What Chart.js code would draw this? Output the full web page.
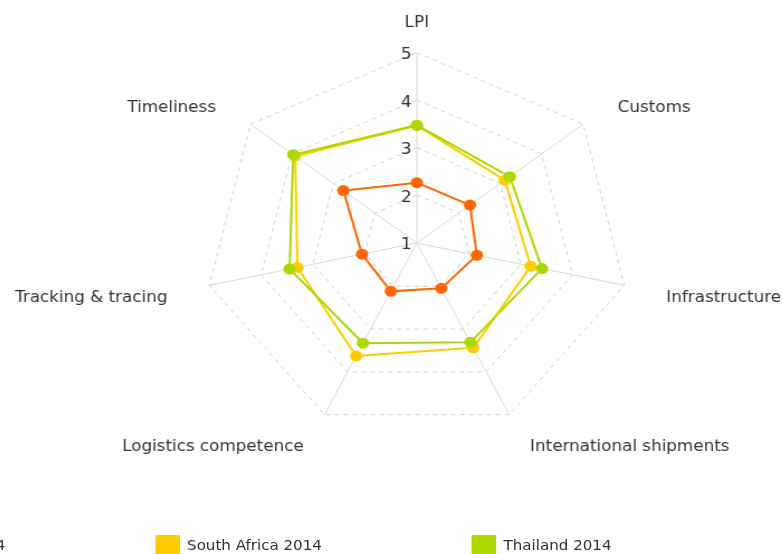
<!DOCTYPE html>
<html>
<head>
<meta charset="utf-8">
<script src="https://cdn.jsdelivr.net/npm/chart.js@4.4.1/dist/chart.umd.min.js"></script>
<style>
  html, body { margin: 0; padding: 0; background: #fff; }
  body { width: 783px; height: 554px; overflow: hidden; position: relative; font-family: "DejaVu Sans", Verdana, sans-serif; }
  /* the original picture is stretched sideways, so the whole stage is too */
  #stage { position: absolute; left: -40px; top: 0; width: 818px; height: 554px; transform: scaleX(1.117); transform-origin: 0 0; }
  #radar { position: absolute; left: 0; top: -13px; }
  #legend { position: absolute; left: 174.6px; top: 535px; display: flex; gap: 134px; font-size: 13.5px; color: #333; }
  .item { display: flex; align-items: center; white-space: nowrap; }
  .item.first { position: absolute; top: 0; right: 100%; margin-right: 134px; }
  .swatch { width: 22.4px; height: 20px; margin-right: 6.3px; }
</style>
</head>
<body>
<div id="stage">
  <canvas id="radar" width="818" height="489"></canvas>
  <div id="legend"></div>
</div>
<script>
const labels = ["LPI", "Customs", "Infrastructure", "International shipments", "Logistics competence", "Tracking & tracing", "Timeliness"]
const tickValues = [1, 2, 3, 4, 5]

const seriesNames = ["Myanmar 2014", "South Africa 2014", "Thailand 2014"]
const myanmar = [2.26, 2.27, 2.15, 2.05, 2.12, 2.05, 2.76]
const southAfrica = [3.46, 3.11, 3.19, 3.44, 3.63, 3.30, 3.92]
const thailand = [3.47, 3.23, 3.41, 3.31, 3.33, 3.45, 3.97]
const seriesValues = [myanmar, southAfrica, thailand]
const colors = ["#ff6600", "#ffcc00", "#aad800"]

const FONT = "'DejaVu Sans', Verdana, sans-serif"
const LABEL_GAP = 35

// axis names: vertical middle on the anchor, pushed a little outward / down like the original
const middleLabels = {
  id: "middleLabels",
  afterLayout(chart) {
    const scale = chart.scales.r
    const items = scale._pointLabelItems
    if (!items) return
    const dist = scale.drawingArea + LABEL_GAP
    items.forEach((item, i) => {
      const h = item.bottom - item.top
      const w = item.right - item.left
      const p = scale.getPointPosition(i, dist)
      const dx = p.x - scale.xCenter
      const dy = p.y - scale.yCenter
      const x = p.x + (Math.abs(dx) < 1 ? 0 : Math.sign(dx) * 3.5)
      item.x = x
      item.y = p.y - h / 2 + 6 - 6 * Math.max(0, dy / dist)
      item.top = item.y
      item.bottom = item.y + h
      if (item.textAlign === "left") item.left = x
      else if (item.textAlign === "right") item.left = x - w
      else item.left = x - w / 2
      item.right = item.left + w
    })
  },
}

function buildDatasets() {
  return seriesValues.map((values, idx) => ({
    label: seriesNames[idx],
    data: values,
    borderColor: colors[idx],
    backgroundColor: colors[idx],
    pointBackgroundColor: colors[idx],
    pointBorderColor: colors[idx],
    pointBorderWidth: 0,
    pointRadius: 5.5,
    borderWidth: 2,
    fill: false,
    order: seriesValues.length - 1 - idx,
  }))
}

function buildLegend() {
  const legend = document.getElementById("legend")
  seriesNames.forEach((name, idx) => {
    const item = document.createElement("div")
    item.className = idx === 0 ? "item first" : "item"
    const swatch = document.createElement("span")
    swatch.className = "swatch"
    swatch.style.background = colors[idx]
    const text = document.createElement("span")
    text.textContent = name
    item.appendChild(swatch)
    item.appendChild(text)
    legend.appendChild(item)
  })
}

new Chart(document.getElementById("radar"), {
  type: "radar",
  data: { labels, datasets: buildDatasets() },
  options: {
    responsive: false,
    animation: false,
    plugins: { legend: { display: false }, tooltip: { enabled: false } },
    scales: {
      r: {
        min: tickValues[0] - 0.01,
        max: tickValues[tickValues.length - 1],
        afterBuildTicks: (axis) => {
          axis.ticks = [axis.min, ...tickValues].map((value) => ({ value }))
        },
        ticks: {
          font: { family: FONT, size: 15, lineHeight: "3px" },
          color: "#333",
          showLabelBackdrop: false,
          // empty first line + short line height drops the number a bit, trailing spaces push it left of the axis
          callback: (v) => (tickValues.includes(v) ? ["", v + "    "] : ""),
        },
        grid: {
          color: (c) => (c.tick && c.tick.value > tickValues[0] ? "#cfcfcf" : "transparent"),
          lineWidth: 1,
        },
        border: { dash: [4, 4] },
        angleLines: { color: "#d9d9d9", lineWidth: 1 },
        pointLabels: { font: { family: FONT, size: 15 }, color: "#333", padding: 26 },
      },
    },
  },
  plugins: [middleLabels],
})

buildLegend()
</script>
</body>
</html>
